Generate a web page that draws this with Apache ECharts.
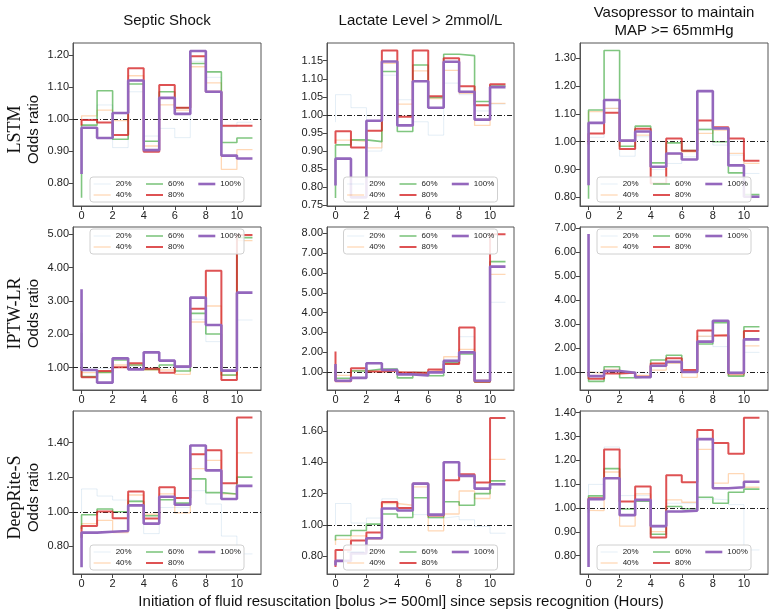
<!DOCTYPE html>
<html>
<head>
  <meta charset="utf-8">
  <title>Odds ratio by fluid resuscitation timing</title>
</head>
<body style="margin: 0">
  <div id="container" style="width: 775px; height: 613px;"></div>
  <script src="https://cdn.jsdelivr.net/npm/echarts@6/dist/echarts.min.js"></script>
  <script>
    // hours since sepsis recognition (step 'pre' style: first value is the start of the vertical at 0)
    var hours = [0, 1, 2, 3, 4, 5, 6, 7, 8, 9, 10, 11];
    var levels = ['20%', '40%', '60%', '80%', '100%'];
    var outcomes = ['Septic Shock', 'Lactate Level > 2mmol/L', 'Vasopressor to maintain\nMAP >= 65mmHg'];
    var models = ['LSTM', 'IPTW-LR', 'DeepRite-S'];

    // rows = 20%, 40%, 60%, 80%, 100%
    var lstmSeptic = [
      [0.98, 1.00, 1.044, 0.911, 1.085, 0.947, 0.971, 0.942, 1.18, 1.13, 0.976, 0.99],
      [0.98, 1.01, 1.028, 0.995, 1.135, 0.916, 1.044, 1.028, 1.163, 1.113, 0.843, 0.905],
      [0.755, 0.981, 1.088, 0.937, 1.109, 0.931, 1.085, 1.035, 1.173, 1.147, 0.927, 0.941],
      [0.98, 0.997, 0.989, 0.95, 1.158, 0.898, 1.106, 1.035, 1.196, 1.085, 0.979, 0.979],
      [0.829, 0.973, 0.941, 1.019, 1.12, 0.903, 1.066, 1.016, 1.212, 1.085, 0.886, 0.877]
    ];
    var lstmLactate = [
      [0.98, 1.056, 1.02, 0.90, 1.11, 1.042, 0.981, 0.944, 1.088, 1.056, 1.011, 1.03],
      [0.92, 0.93, 0.927, 0.909, 1.143, 1.03, 1.122, 1.045, 1.123, 1.06, 0.971, 1.032],
      [0.77, 0.917, 0.931, 0.926, 1.12, 0.954, 1.138, 1.048, 1.168, 1.164, 1.037, 1.08],
      [0.92, 0.955, 0.91, 0.956, 1.178, 0.995, 1.178, 1.052, 1.157, 1.079, 1.027, 1.085],
      [0.805, 0.879, 0.772, 0.984, 1.148, 0.971, 1.093, 1.02, 1.147, 1.064, 0.987, 1.077]
    ];
    var lstmVaso = [
      [0.98, 1.016, 1.12, 0.948, 1.018, 0.90, 0.922, 0.946, 1.048, 0.988, 0.952, 0.886],
      [0.98, 1.108, 1.12, 1.006, 1.024, 0.85, 0.956, 0.964, 1.03, 1.042, 0.958, 0.922],
      [0.795, 1.114, 1.328, 0.984, 1.056, 0.924, 0.996, 0.968, 1.044, 1.0, 0.888, 0.81],
      [0.99, 1.03, 1.104, 0.974, 1.047, 0.85, 1.012, 0.968, 1.076, 1.052, 1.012, 0.932],
      [0.844, 1.068, 1.15, 1.004, 1.037, 0.91, 0.958, 0.936, 1.182, 1.048, 0.915, 0.802]
    ];
    var iptwSeptic = [
      [1.0, 0.98, 0.98, 1.03, 1.05, 0.98, 1.03, 0.96, 2.45, 1.78, 0.93, 2.43],
      [1.2, 0.85, 0.86, 1.08, 1.08, 0.93, 0.93, 0.8, 2.37, 2.85, 0.77, 4.81],
      [2.05, 0.73, 0.86, 1.23, 1.08, 0.95, 1.08, 0.9, 2.63, 2.01, 0.78, 4.9],
      [1.0, 0.71, 0.9, 1.01, 1.13, 0.97, 0.85, 1.03, 2.77, 3.91, 0.63, 4.98],
      [3.35, 0.93, 0.55, 1.28, 0.95, 1.46, 1.21, 1.03, 3.10, 2.28, 0.91, 3.25]
    ];
    var iptwLactate = [
      [1.0, 0.97, 1.1, 1.1, 1.19, 1.02, 0.97, 1.05, 1.64, 2.78, 0.56, 4.52],
      [1.0, 0.83, 1.07, 1.0, 1.03, 0.93, 1.0, 1.1, 1.77, 2.14, 0.6, 5.93],
      [1.3, 0.68, 1.05, 1.15, 1.15, 0.7, 0.97, 0.81, 1.47, 1.91, 0.5, 6.57],
      [2.04, 0.53, 1.19, 1.02, 1.08, 0.97, 0.95, 1.13, 1.4, 3.25, 0.51, 7.95],
      [1.4, 0.56, 0.70, 1.44, 1.1, 0.88, 0.83, 0.98, 1.56, 1.99, 0.56, 6.32]
    ];
    var iptwVaso = [
      [1.0, 1.01, 1.08, 1.01, 0.94, 1.22, 1.36, 1.01, 2.48, 2.06, 1.0, 1.82],
      [1.0, 0.94, 1.11, 0.97, 0.86, 1.08, 1.36, 0.78, 2.5, 2.57, 0.86, 2.09],
      [0.9, 0.61, 1.22, 0.76, 0.8, 1.5, 1.7, 1.01, 2.17, 3.06, 0.83, 2.89],
      [1.0, 0.72, 0.94, 0.97, 0.8, 1.36, 1.57, 1.08, 2.73, 2.52, 0.94, 2.71],
      [6.76, 0.83, 1.04, 0.97, 0.78, 1.26, 1.43, 1.0, 2.27, 3.14, 0.97, 2.36]
    ];
    var deepSeptic = [
      [1.0, 1.132, 1.091, 1.068, 1.064, 0.874, 1.025, 1.025, 1.122, 1.045, 0.86, 0.757],
      [0.9, 0.932, 0.951, 0.88, 1.097, 0.986, 1.103, 0.994, 1.249, 1.297, 1.103, 1.34],
      [0.9, 0.983, 1.016, 1.0, 1.06, 0.977, 1.07, 1.05, 1.19, 1.111, 1.103, 1.2],
      [0.85, 0.918, 1.002, 0.963, 1.117, 0.961, 1.142, 1.08, 1.332, 1.355, 1.165, 1.544],
      [0.68, 0.88, 0.885, 0.889, 1.037, 0.932, 1.087, 1.041, 1.383, 1.239, 1.074, 1.15]
    ];
    var deepLactate = [
      [1.0, 1.136, 1.011, 1.043, 1.166, 1.108, 1.065, 1.043, 1.054, 1.032, 0.989, 0.946],
      [0.87, 0.907, 0.929, 0.907, 1.136, 1.125, 1.242, 0.961, 1.069, 1.216, 1.168, 1.419],
      [0.9, 0.931, 0.963, 1.004, 1.069, 1.047, 1.173, 1.047, 1.147, 1.125, 1.199, 1.281],
      [0.73, 0.838, 0.899, 0.95, 1.145, 1.108, 1.263, 1.06, 1.285, 1.324, 1.27, 1.684],
      [0.74, 0.769, 0.817, 0.914, 1.104, 1.091, 1.263, 1.065, 1.4, 1.313, 1.231, 1.259]
    ];
    var deepVaso = [
      [1.0, 1.099, 1.256, 1.052, 1.052, 0.918, 1.02, 1.02, 1.038, 1.034, 1.014, 0.824],
      [0.99, 0.989, 1.151, 0.924, 1.059, 0.901, 1.034, 1.024, 1.246, 1.104, 1.144, 1.087],
      [0.98, 1.051, 1.165, 0.996, 1.028, 0.89, 1.006, 0.997, 1.045, 1.02, 1.066, 1.079],
      [1.0, 1.041, 1.245, 1.027, 1.09, 0.876, 1.137, 1.108, 1.327, 1.273, 1.228, 1.379],
      [0.752, 1.037, 1.125, 0.97, 1.034, 0.924, 0.985, 0.989, 1.289, 1.083, 1.087, 1.11]
    ];

    var xTicks = [0, 2, 4, 6, 8, 10];
    // y tick labels per panel, row by row
    var yTicks = [
      [0.8, 0.9, 1.0, 1.1, 1.2],
      [0.75, 0.8, 0.85, 0.9, 0.95, 1.0, 1.05, 1.1, 1.15],
      [0.8, 0.9, 1.0, 1.1, 1.2, 1.3],
      [1, 2, 3, 4, 5],
      [1, 2, 3, 4, 5, 6, 7, 8],
      [1, 2, 3, 4, 5, 6, 7],
      [0.8, 1.0, 1.2, 1.4],
      [0.8, 1.0, 1.2, 1.4, 1.6],
      [0.8, 0.9, 1.0, 1.1, 1.2, 1.3, 1.4]
    ];
    var yRange = [
      [0.729, 1.237], [0.748, 1.199], [0.769, 1.355],
      [0.33, 5.22], [0.09, 8.32], [0.25, 7.05],
      [0.641, 1.582], [0.685, 1.728], [0.723, 1.407]
    ];
    var panels = [lstmSeptic, lstmLactate, lstmVaso, iptwSeptic, iptwLactate, iptwVaso, deepSeptic, deepLactate, deepVaso];

    var colors = ['#1f77b4', '#ff7f0e', '#2ca02c', '#d62728', '#9467bd'];
    var alphas = [0.12, 0.3, 0.6, 0.8, 1];
    var widths = [1, 1.3, 1.6, 2, 2.6];

    var colLeft = [73, 327, 580];
    var colWidth = [188, 187, 188];
    var rowTop = [43, 227, 411];
    var rowHeight = 163;
    var font = 'Liberation Sans, Arial, sans-serif';

    var dom = document.getElementById('container');
    var myChart = echarts.init(dom, null, { renderer: 'canvas' });

    var grids = [], xAxes = [], yAxes = [], series = [], legends = [], graphics = [];

    // legend columns: 20/40, 60/80, 100
    var legendCols = [[0, 1], [2, 3], [4]];

    for (var p = 0; p < 9; p++) {
      var r = Math.floor(p / 3), c = p % 3;
      grids.push({
        left: colLeft[c], top: rowTop[r], width: colWidth[c], height: rowHeight,
        show: true, borderColor: '#555', borderWidth: 1, backgroundColor: 'transparent'
      });
      xAxes.push({
        type: 'value', gridIndex: p, min: -0.55, max: 11.55,
        splitLine: { show: false },
        axisLine: { show: true, onZero: false, lineStyle: { color: '#555' } },
        axisTick: { show: true, customValues: xTicks, length: 4, lineStyle: { color: '#444' } },
        axisLabel: { customValues: xTicks, fontSize: 11, color: '#222', margin: 4, fontFamily: font }
      });
      yAxes.push({
        type: 'value', gridIndex: p, min: yRange[p][0], max: yRange[p][1],
        splitLine: { show: false },
        axisLine: { show: true, onZero: false, lineStyle: { color: '#555' } },
        axisTick: { show: true, customValues: yTicks[p], length: 4, lineStyle: { color: '#444' } },
        axisLabel: {
          customValues: yTicks[p], fontSize: 11, color: '#222', margin: 4, fontFamily: font,
          formatter: function (v) { return v.toFixed(2); }
        }
      });

      for (var k = 0; k < levels.length; k++) {
        var vals = panels[p][k];
        var s = {
          name: levels[k],
          type: 'line',
          xAxisIndex: p,
          yAxisIndex: p,
          step: 'start',
          symbol: 'none',
          showSymbol: false,
          silent: true,
          z: 2 + k,
          data: hours.map(function (h, i) { return [h, vals[i]]; }),
          itemStyle: { color: colors[k], opacity: alphas[k] },
          lineStyle: { color: colors[k], width: widths[k], opacity: alphas[k] },
          emphasis: { disabled: true }
        };
        if (k === levels.length - 1) {
          s.markLine = {
            silent: true,
            symbol: ['none', 'none'],
            label: { show: false },
            lineStyle: { color: '#222', width: 1, type: [5, 2, 1, 2], opacity: 1 },
            emphasis: { disabled: true },
            data: [{ yAxis: 1 }]
          };
        }
        series.push(s);
      }

      // legend box sits at the bottom of the panel, except the middle row where it is at the top
      var boxLeft = colLeft[c] + colWidth[c] / 2 - 77;
      var boxTop = r === 1 ? rowTop[r] + 2 : rowTop[r] + rowHeight - 29;
      graphics.push({
        type: 'rect', z: 50, silent: true,
        shape: { x: boxLeft, y: boxTop, width: 154, height: 25, r: 3 },
        style: { fill: 'rgba(255,255,255,0.85)', stroke: '#d0d0d0', lineWidth: 1 }
      });
      legendCols.forEach(function (col, j) {
        legends.push({
          data: col.map(function (k) {
            return { name: levels[k], lineStyle: { width: widths[k], color: colors[k], opacity: alphas[k] } };
          }),
          z: 60,
          left: boxLeft + 3 + j * 52,
          top: boxTop + 3,
          orient: 'vertical',
          itemWidth: 17,
          itemHeight: 8,
          itemGap: 3,
          padding: 0,
          selectedMode: false,
          itemStyle: { opacity: 0 },
          textStyle: { fontSize: 8, color: '#222', fontFamily: font }
        });
      });
    }

    // column titles
    for (var c2 = 0; c2 < 3; c2++) {
      graphics.push({
        type: 'text', x: colLeft[c2] + colWidth[c2] / 2, y: c2 === 2 ? 22 : 21,
        style: {
          text: outcomes[c2], fill: '#111', fontSize: 15, fontFamily: font, lineHeight: 18,
          align: 'center', verticalAlign: 'middle', textAlign: 'center', textVerticalAlign: 'middle'
        }
      });
    }
    // row labels
    for (var r2 = 0; r2 < 3; r2++) {
      var cy = rowTop[r2] + rowHeight / 2 + 5;
      graphics.push({
        type: 'text', x: 15, y: cy, rotation: Math.PI / 2,
        style: {
          text: models[r2], fill: '#111', fontSize: 18, fontFamily: 'Liberation Serif, Times New Roman, serif',
          align: 'center', verticalAlign: 'middle', textAlign: 'center', textVerticalAlign: 'middle'
        }
      });
      graphics.push({
        type: 'text', x: 34, y: cy, rotation: Math.PI / 2,
        style: {
          text: 'Odds ratio', fill: '#111', fontSize: 15, fontFamily: font,
          align: 'center', verticalAlign: 'middle', textAlign: 'center', textVerticalAlign: 'middle'
        }
      });
    }
    graphics.push({
      type: 'text', x: 401, y: 602,
      style: {
        text: 'Initiation of fluid resuscitation [bolus >= 500ml] since sepsis recognition (Hours)',
        fill: '#111', fontSize: 15, fontFamily: font,
        align: 'center', verticalAlign: 'middle', textAlign: 'center', textVerticalAlign: 'middle'
      }
    });

    var option = {
      animation: false,
      backgroundColor: '#fff',
      grid: grids,
      xAxis: xAxes,
      yAxis: yAxes,
      legend: legends,
      series: series,
      graphic: graphics
    };

    myChart.setOption(option);
  </script>
</body>
</html>
